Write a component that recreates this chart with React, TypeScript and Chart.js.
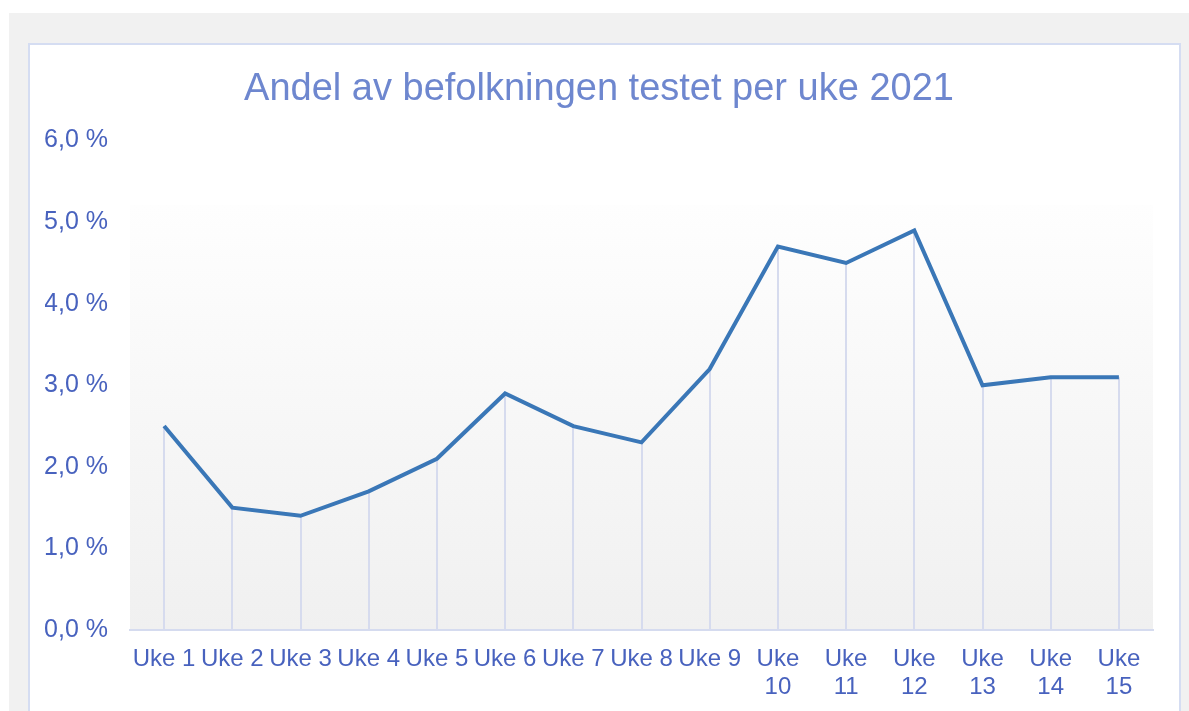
import React, { useEffect, useRef } from "react";
import { Chart, registerables } from "chart.js";

Chart.register(...registerables);

const titleText = "Andel av befolkningen testet per uke 2021";
const weeks: (string | string[])[] = [
  "Uke 1", "Uke 2", "Uke 3", "Uke 4", "Uke 5", "Uke 6", "Uke 7", "Uke 8", "Uke 9",
  ["Uke", "10"], ["Uke", "11"], ["Uke", "12"], ["Uke", "13"], ["Uke", "14"], ["Uke", "15"],
];
const shareTested = [2.5, 1.5, 1.4, 1.7, 2.1, 2.9, 2.5, 2.3, 3.2, 4.7, 4.5, 4.9, 3.0, 3.1, 3.1];
const yMin = 0;
const yMax = 6;
const yStep = 1;

const FONT = "'Liberation Sans', Arial, sans-serif";

const plotBgPlugin = {
  id: "plotBg",
  beforeDraw(chart: any) {
    const { ctx, chartArea } = chart;
    const top = chartArea.top + 64;
    const g = ctx.createLinearGradient(0, top, 0, chartArea.bottom);
    g.addColorStop(0, "#fefefe");
    g.addColorStop(1, "#f0f0f0");
    ctx.save();
    ctx.fillStyle = g;
    ctx.fillRect(chartArea.left, top, chartArea.right - chartArea.left, chartArea.bottom - top);
    ctx.restore();
  },
};

const dropLinePlugin = {
  id: "dropLines",
  beforeDatasetsDraw(chart: any) {
    const { ctx, chartArea } = chart;
    const meta = chart.getDatasetMeta(0);
    ctx.save();
    ctx.strokeStyle = "#d6dbee";
    ctx.lineWidth = 2;
    meta.data.forEach((p: any) => {
      ctx.beginPath();
      ctx.moveTo(Math.round(p.x), p.y);
      ctx.lineTo(Math.round(p.x), chartArea.bottom);
      ctx.stroke();
    });
    ctx.restore();
  },
};

export default function App() {
  const ref = useRef<HTMLCanvasElement>(null);
  useEffect(() => {
    if (!ref.current) return;
    const chart = new Chart(ref.current, {
      type: "line",
      data: {
        labels: weeks,
        datasets: [
          {
            data: shareTested,
            borderColor: "#3a77b7",
            borderWidth: 4,
            pointRadius: 0,
            tension: 0,
            fill: false,
            borderJoinStyle: "miter",
          },
        ],
      },
      options: {
        animation: false,
        responsive: false,
        maintainAspectRatio: false,
        layout: { padding: { left: 15, right: 26, top: 0, bottom: 0 } },
        plugins: {
          legend: { display: false },
          tooltip: { enabled: false },
          title: {
            display: true,
            text: titleText,
            color: "#6e87cf",
            font: { family: FONT, size: 38, weight: "normal", lineHeight: 1.2 },
            padding: { top: 22, bottom: 28 },
          },
        },
        scales: {
          x: {
            offset: true,
            grid: { display: false, drawTicks: false },
            border: { display: true, color: "#d5dbef", width: 2 },
            ticks: {
              color: "#4862be",
              font: { family: FONT, size: 24, lineHeight: 1.15 },
              maxRotation: 0,
              minRotation: 0,
              autoSkip: false,
              padding: 16,
            },
            afterFit(axis: any) {
              axis.height = 81;
            },
          },
          y: {
            min: yMin,
            max: yMax,
            grid: { display: false, drawTicks: false },
            border: { display: false },
            ticks: {
              stepSize: yStep,
              color: "#4862be",
              font: { family: FONT, size: 25 },
              padding: 22,
              callback: (v: any) => Number(v).toFixed(1).replace(".", ",") + " %",
            },
            afterFit(axis: any) {
              axis.width = 85;
            },
          },
        },
      },
      plugins: [plotBgPlugin, dropLinePlugin],
    });
    return () => chart.destroy();
  }, []);

  return (
    <div style={{ position: "absolute", left: 0, top: 0, width: 1189, height: 711, overflow: "hidden", background: "#ffffff" }}>
      <div style={{ position: "absolute", left: 9, top: 13, right: 0, bottom: 0, background: "#f1f1f1" }} />
      <div
        style={{
          position: "absolute",
          left: 28,
          top: 43,
          width: 1149,
          height: 700,
          background: "#ffffff",
          border: "2px solid #d5ddf2",
        }}
      >
        <canvas ref={ref} width={1149} height={666} style={{ display: "block" }} />
      </div>
    </div>
  );
}
